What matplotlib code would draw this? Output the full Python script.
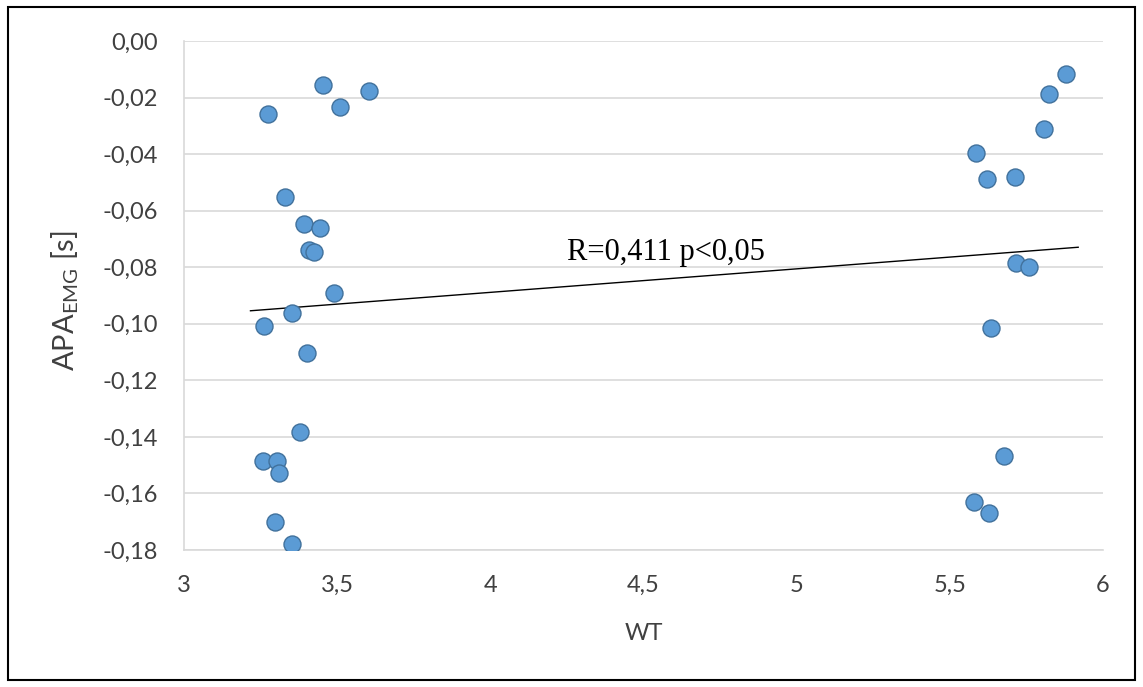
import numpy as np
import matplotlib
matplotlib.use("Agg")
import matplotlib.pyplot as plt
from matplotlib.ticker import FuncFormatter, MultipleLocator
from matplotlib.patches import Rectangle

# data
wt = [3.453, 3.604, 3.508, 3.275, 3.329, 3.393, 3.444, 3.407, 3.424, 3.491,
      3.353, 3.262, 3.402, 3.378, 3.257, 3.305, 3.310, 3.298, 3.353,
      5.879, 5.825, 5.808, 5.586, 5.622, 5.712, 5.716, 5.759,
      5.634, 5.676, 5.579, 5.628]
apa = [-0.0156, -0.0176, -0.0234, -0.0259, -0.0552, -0.0648, -0.0662, -0.0740, -0.0745, -0.0890,
       -0.0961, -0.1007, -0.1103, -0.1383, -0.1486, -0.1486, -0.1526, -0.1700, -0.1780,
       -0.0117, -0.0189, -0.0311, -0.0397, -0.0488, -0.0480, -0.0784, -0.0798,
       -0.1014, -0.1466, -0.1629, -0.1668]
annotation = "R=0,411 p<0,05"

x = np.array(wt)
y = np.array(apa)

fig = plt.figure(figsize=(11.43, 6.87), dpi=100)
ax = fig.add_axes([184 / 1143, 1 - 550 / 687, (1103 - 184) / 1143, (550 - 41) / 687])

ax.scatter(x, y, s=150, color="#5B9BD5", edgecolor="#41719C", linewidth=1.0, zorder=3)

# linear trendline
slope, intercept = np.polyfit(x, y, 1)
tx = np.array([x.min() - 0.04, x.max() + 0.04])
ax.plot(tx, slope * tx + intercept, color="black", linewidth=1.0, zorder=2)

ax.text(4.25, -0.0774, annotation, family="Liberation Serif", fontsize=22, color="black",
        va="baseline", ha="left", zorder=4)

ax.set_xlim(3, 6)
ax.set_ylim(-0.18, 0.0)
ax.xaxis.set_major_locator(MultipleLocator(0.5))
ax.yaxis.set_major_locator(MultipleLocator(0.02))

def fmt_x(v, pos):
    return ("%g" % round(v, 2)).replace(".", ",")

def fmt_y(v, pos):
    return ("%.2f" % v).replace(".", ",")

ax.xaxis.set_major_formatter(FuncFormatter(fmt_x))
ax.yaxis.set_major_formatter(FuncFormatter(fmt_y))

ax.grid(axis="y", color="#D9D9D9", linewidth=1.2)
ax.set_axisbelow(True)
for side in ["top", "right"]:
    ax.spines[side].set_visible(False)
for side in ["left", "bottom"]:
    ax.spines[side].set_color("#D9D9D9")
    ax.spines[side].set_linewidth(1.2)

ax.tick_params(axis="both", length=0, labelsize=17, labelcolor="#404040")
ax.tick_params(axis="y", pad=19)
ax.tick_params(axis="x", pad=18)
for lab in ax.get_xticklabels() + ax.get_yticklabels():
    lab.set_family("Lato")

ax.set_xlabel("WT", family="Lato", fontsize=17, color="#404040")
ax.xaxis.set_label_coords(0.5, (550 - 634) / 509)
ax.xaxis.label.set_va("center")
ax.set_ylabel(r"APA$_{\mathregular{EMG}}$ [s]", family="Lato", fontsize=21, color="#404040")
ax.yaxis.set_label_coords((65 - 184) / 919, 0.49)
ax.yaxis.label.set_va("center")

# outer frame
fig.patches.append(Rectangle((8 / 1143, 7 / 687), 1 - 16 / 1143, 1 - 14 / 687,
                             transform=fig.transFigure, fill=False,
                             edgecolor="black", linewidth=1.5))

fig.savefig("out.png", dpi=100)
